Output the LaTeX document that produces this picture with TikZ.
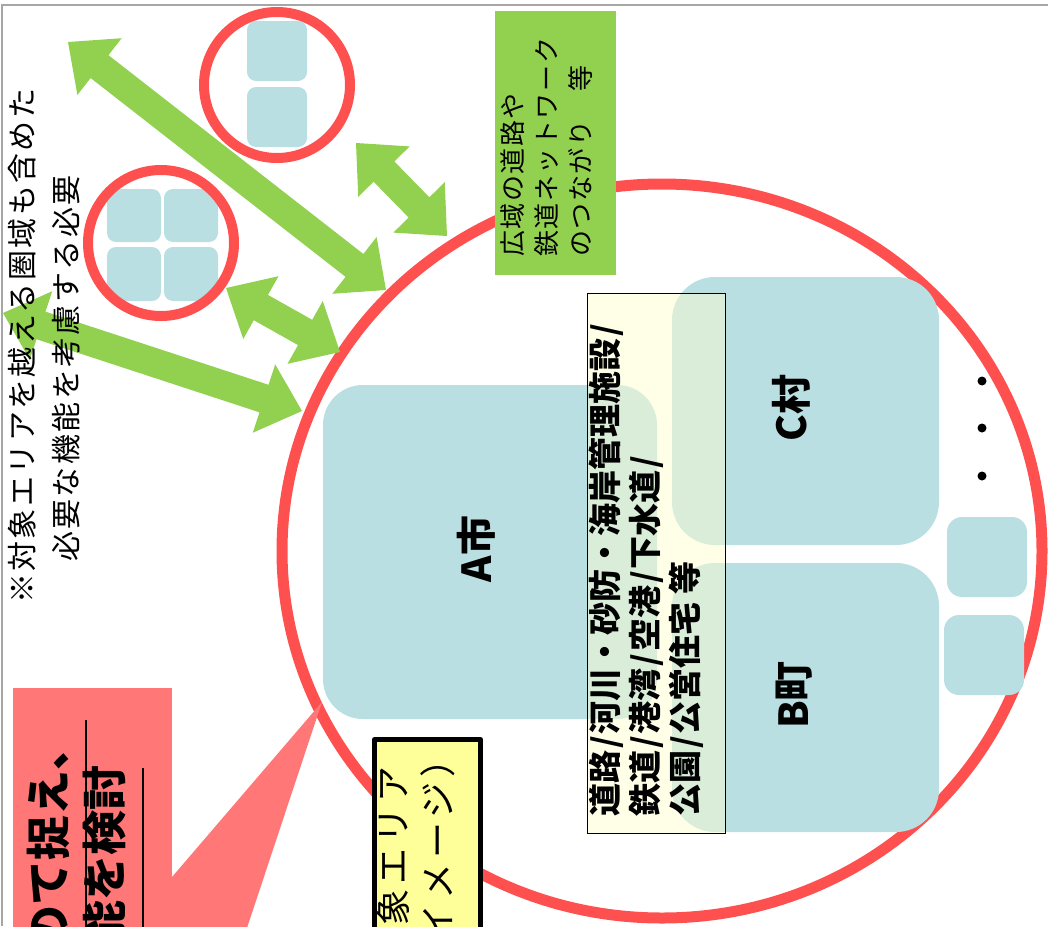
\documentclass[tikz,border=0pt]{standalone}
\usepackage{fontspec}
\newfontfamily\jp{Noto Sans CJK JP}
\newfontfamily\jpA[LetterSpace=8]{Noto Sans CJK JP}
\newfontfamily\jpB[LetterSpace=6]{Noto Sans CJK JP}
\newfontfamily\jpC[LetterSpace=14]{Noto Sans CJK JP}
\usetikzlibrary{calc}
\definecolor{ringred}{HTML}{FF5050}
\definecolor{boxred}{HTML}{FF7777}
\definecolor{lgreen}{HTML}{92D050}
\definecolor{lblue}{HTML}{BADFE2}
\definecolor{lyellow}{HTML}{FFFF99}
\definecolor{pyellow}{HTML}{FFFFCC}
\newcommand\hsl{\makebox[.5em]{/}}
\newcommand\dblarrow[2]{%
  \coordinate (h1) at ($(#1)!40pt!(#2)$);
  \coordinate (h2) at ($(#2)!40pt!(#1)$);
  \fill[arrowfill] (#1) -- ($(h1)!36pt!90:(#2)$) -- ($(h1)!14.5pt!90:(#2)$)
    -- ($(h2)!14.5pt!-90:(#1)$) -- ($(h2)!36pt!-90:(#1)$) -- (#2)
    -- ($(h2)!36pt!90:(#1)$) -- ($(h2)!14.5pt!90:(#1)$)
    -- ($(h1)!14.5pt!-90:(#2)$) -- ($(h1)!36pt!-90:(#2)$) -- cycle;}
\begin{document}
\begin{tikzpicture}[x=1pt,y=-1pt,
  ring/.style={draw=ringred, line width=11pt},
  smallring/.style={draw=ringred, line width=10pt},
  cityblock/.style={fill=lblue, rounded corners=40pt},
  tinyblock/.style={fill=lblue, rounded corners=9pt},
  arrowfill/.style={fill=lgreen},
  vt/.style={rotate=90, inner sep=0pt, text height=.88em, text depth=.12em},
  tltext/.style={vt, anchor=west, font=\jpA\fontsize{30}{36}\selectfont},
  grtext/.style={vt, anchor=west, font=\jpB\fontsize{26}{30}\selectfont},
  inftext/.style={vt, anchor=west, font=\jp\bfseries\fontsize{33}{38}\selectfont},
  citytext/.style={vt, anchor=center, font=\jp\bfseries\fontsize{40}{46}\selectfont},
  redtext/.style={vt, anchor=east, font=\jp\bfseries\fontsize{45}{50}\selectfont},
  yeltext/.style={vt, anchor=east, font=\jpC\fontsize{36}{40}\selectfont},
]
\useasboundingbox (0,0) rectangle (1048,926);
\clip (0,0) rectangle (1048,926);
% frame
\draw[gray!70, line width=1.5pt] (2,926) -- (2,5) -- (1048,5);

% big ring (target area)
\draw[ring] (662,551) ellipse [x radius=380, y radius=367];

% municipalities
\fill[cityblock] (323,385) rectangle (657,719);
\fill[cityblock, rounded corners=43pt] (672,277) rectangle (939,545);
\fill[cityblock, rounded corners=43pt] (672,563) rectangle (939,832);
\fill[tinyblock, rounded corners=15pt] (947,517) rectangle (1027,597);
\fill[tinyblock, rounded corners=15pt] (944,615) rectangle (1024,695);
\foreach \yy in {381,428,476} \fill (982,\yy) circle[radius=4.5];

\node[citytext] (acity) at (488,549) {A市};
\node[citytext] (ccity) at (803,408) {C村};
\node[citytext] (bcity) at (805,695) {B町};

% infrastructure box
\draw[black, line width=0.8pt, fill=pyellow, fill opacity=0.45] (587,293) rectangle (725,833);
\node[inftext] (inf1) at (614,817) {道路\hsl 河川・砂防・海岸管理施設\hsl};
\node[inftext] (inf2) at (654,817) {鉄道\hsl 港湾\hsl 空港\hsl 下水道\hsl};
\node[inftext] (inf3) at (694,817) {公園\hsl 公営住宅 等};

% green box
\fill[lgreen] (495,11) rectangle (616,275);
\node[grtext] (g1) at (519,257) {広域の道路や};
\node[grtext] (g2) at (553,257) {鉄道ネットワーク};
\node[grtext] (g3) at (587,257) {のつながり　等};

% yellow box
\draw[line width=5pt, line join=round, fill=lyellow] (374.5,739.5) rectangle (480.5,960);
\node[yeltext] (y1) at (403,766) {対象エリア};
\node[yeltext] (y2) at (448,741) {（イメージ）};

% red callout
\fill[boxred] (13,688) rectangle (172,940);
\fill[boxred] (172,877) -- (322,702) -- (243,940) -- (172,940) -- cycle;
\node[redtext] (r1) at (62,725) {のて捉え、};
\node[redtext] (r2) at (118,765) {能を検討};
\draw[line width=1.5pt] (86,720) -- (86,940);
\draw[line width=1.5pt] (143,768) -- (143,940);

% small areas
\fill[tinyblock] (247,21) rectangle (307,81);
\fill[tinyblock] (247,87) rectangle (307,147);
\draw[smallring] (277,85) circle[radius=73];
\fill[tinyblock] (107,189) rectangle (161,242);
\fill[tinyblock] (164,189) rectangle (218,242);
\fill[tinyblock] (107,247) rectangle (161,301);
\fill[tinyblock] (164,247) rectangle (218,301);
\draw[smallring] (161,243) circle[radius=73];

% arrows
\coordinate (a1s) at (68,42);   \coordinate (a1e) at (386,290);
\coordinate (a2s) at (3,313);   \coordinate (a2e) at (302,411);
\coordinate (a3s) at (226,288); \coordinate (a3e) at (340,352);
\coordinate (a4s) at (356,143); \coordinate (a4e) at (447,236);
\dblarrow{a1s}{a1e}
\dblarrow{a2s}{a2e}
\dblarrow{a3s}{a3e}
\dblarrow{a4s}{a4e}

% note text
\node[tltext] (t1) at (30,604) {※対象エリアを越える圏域も含めた};
\node[tltext] (t2) at (74,562) {必要な機能を考慮する必要};
\end{tikzpicture}
\end{document}
